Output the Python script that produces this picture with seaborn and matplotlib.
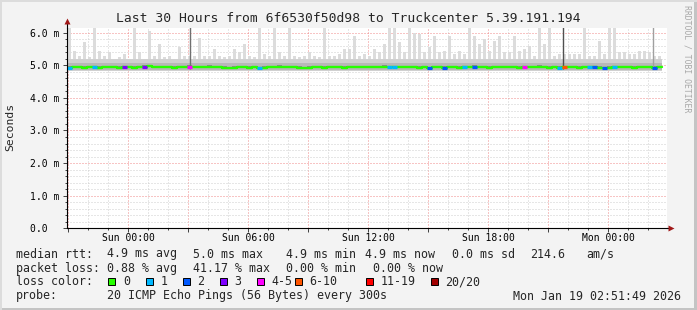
import numpy as np
import pandas as pd
import matplotlib
matplotlib.use("Agg")
import matplotlib.pyplot as plt
import matplotlib.dates as mdates
import matplotlib.ticker as mticker
from matplotlib.patches import Rectangle
from matplotlib.lines import Line2D
import seaborn as sns

# ---------------- data ----------------
title = "Last 30 Hours from 6f6530f50d98 to Truckcenter 5.39.191.194"
t_start = "2026-01-17 20:56"
t_end = "2026-01-19 02:56"
step = "15min"

median_ms = [
    4.93, 4.94, 4.94, 4.93, 4.95, 4.94, 4.93, 4.94, 4.95, 4.94,
    4.93, 4.94, 4.95, 4.93, 4.94, 4.96, 4.98, 4.95, 4.94, 4.95,
    4.94, 4.93, 4.95, 4.94, 4.96, 4.95, 4.94, 4.95, 4.96, 4.95,
    4.94, 4.93, 4.92, 4.93, 4.94, 4.94, 4.93, 4.94, 4.92, 4.93,
    4.95, 4.94, 4.96, 4.94, 4.95, 4.94, 4.93, 4.92, 4.93, 4.94,
    4.94, 4.93, 4.94, 4.95, 4.94, 4.93, 4.94, 4.94, 4.95, 4.94,
    4.95, 4.94, 4.94, 4.96, 4.95, 4.94, 4.95, 4.94, 4.95, 4.94,
    4.93, 4.94, 4.92, 4.94, 4.95, 4.93, 4.94, 4.95, 4.93, 4.94,
    4.95, 4.96, 4.95, 4.94, 4.93, 4.94, 4.95, 4.94, 4.95, 4.95,
    4.93, 4.95, 4.94, 4.95, 4.96, 4.94, 4.93, 4.94, 4.93, 4.95,
    4.94, 4.94, 4.93, 4.94, 4.95, 4.94, 4.93, 4.92, 4.93, 4.94,
    4.94, 4.95, 4.94, 4.93, 4.94, 4.95, 4.94, 4.93, 4.94,
]

smoke_max_ms = [
    6.20, 5.45, 5.30, 5.70, 5.25, 6.20, 5.45, 5.30, 5.40, 5.20,
    5.25, 5.35, 5.20, 6.20, 5.40, 5.20, 6.05, 5.30, 5.65, 5.25,
    5.30, 5.20, 5.55, 5.30, 5.30, 5.30, 5.85, 5.30, 5.30, 5.50,
    5.30, 5.25, 5.30, 5.50, 5.40, 5.65, 5.30, 5.25, 6.20, 5.35,
    5.30, 6.20, 5.40, 5.30, 6.20, 5.30, 5.25, 5.30, 5.40, 5.30,
    5.25, 6.20, 5.30, 5.30, 5.35, 5.50, 5.50, 5.90, 5.30, 5.35,
    5.30, 5.50, 5.40, 5.65, 6.20, 6.20, 5.70, 5.40, 6.20, 6.00,
    5.95, 5.40, 5.55, 5.90, 5.40, 5.45, 5.90, 5.35, 5.45, 5.35,
    6.20, 5.90, 5.65, 5.80, 5.45, 5.75, 5.90, 5.40, 5.40, 5.90,
    5.45, 5.50, 5.60, 5.30, 6.20, 5.65, 6.20, 5.30, 5.35, 5.35,
    5.35, 5.35, 5.35, 6.20, 5.30, 5.30, 5.75, 5.35, 6.20, 6.20,
    5.40, 5.40, 5.35, 5.35, 5.45, 5.45, 5.40, 5.30, 5.30,
]

loss = [
    1, 0, 0, 0, 0, 1, 0, 0, 0, 0,
    0, 3, 0, 0, 0, 3, 0, 0, 0, 0,
    0, 0, 0, 0, 4, 0, 0, 0, 0, 0,
    0, 0, 0, 0, 0, 0, 0, 0, 1, 0,
    0, 0, 0, 0, 0, 0, 0, 0, 0, 0,
    0, 0, 0, 0, 0, 0, 0, 0, 0, 0,
    0, 0, 0, 0, 1, 1, 0, 0, 0, 0,
    0, 0, 2, 0, 0, 2, 0, 0, 0, 1,
    0, 2, 0, 0, 0, 0, 0, 0, 0, 0,
    0, 4, 0, 0, 0, 0, 0, 0, 1, 7,
    0, 0, 0, 0, 1, 2, 0, 2, 0, 1,
    0, 0, 0, 0, 0, 0, 0, 2, 0,
]

spike_times = ["2026-01-18 03:05", "2026-01-18 21:45", "2026-01-19 02:15"]
spike_top = [6.3, 6.3, 6.3]
spike_colors = ["#707070", "#505050", "#a0a0a0"]

loss_labels = ["0", "1", "2", "3", "4-5", "6-10", "11-19", "20/20"]
loss_upper = [0, 1, 2, 3, 5, 10, 19, 20]
loss_colors = ["#26ff00", "#00b8ff", "#0059ff", "#7e00ff", "#ff00ff",
               "#ff5500", "#ff0000", "#a10000"]

stats_rtt = ["median rtt:", "4.9 ms avg", "5.0 ms max", "4.9 ms min",
             "4.9 ms now", "0.0 ms sd", "214.6", "am/s"]
stats_loss = ["packet loss:", "0.88 % avg", "41.17 % max", "0.00 % min",
              "0.00 % now"]
probe_text = ["probe:", "20 ICMP Echo Pings (56 Bytes) every 300s"]
stamp = "Mon Jan 19 02:51:49 2026"
watermark = "RRDTOOL / TOBI OETIKER"

# ---------------- figure ----------------
W, H = 697, 310
sns.set_style("white")
plt.rcParams["font.family"] = ["DejaVu Sans Mono"]
fig = plt.figure(figsize=(W / 100, H / 100), dpi=100)
fig.patch.set_facecolor("#f3f3f3")

def fx(px):
    return px / W

def fy(py):
    return 1 - py / H

ax = fig.add_axes([fx(67), fy(228.3), fx(667) - fx(67), fy(28) - fy(228.3)])
ax.set_facecolor("white")

times = pd.date_range(t_start, periods=len(median_ms) + 1, freq=step)
med = np.array(median_ms)
smax = np.array(smoke_max_ms)
ext = lambda a: np.append(a, a[-1])
n = len(med)

# smoke layers: outer pings as narrow bars, inner ones as steps
centers = times[:-1] + pd.Timedelta(minutes=7.5)
ax.bar(centers, smax - 4.82, bottom=4.82, width=pd.Timedelta(minutes=10) / pd.Timedelta(days=1),
       color="#dcdcdc", lw=0, zorder=2)
ax.fill_between(times, ext(np.full(n, 4.83)), ext(np.minimum(smax, 5.2)),
                step="post", color="#d0d0d0", lw=0, zorder=3)
ax.fill_between(times, ext(np.full(n, 4.85)), ext(np.minimum(smax, 5.08)),
                step="post", color="#b8b8b8", lw=0, zorder=4)
ax.fill_between(times, ext(med - 0.03), ext(med + 0.04), step="post",
                color="#8a8a8a", lw=0, zorder=5)

for t, top, c in zip(pd.to_datetime(spike_times), spike_top, spike_colors):
    ax.vlines(t, 4.9, top, color=c, lw=1.0, zorder=5)

# median line colored by loss
df = pd.DataFrame({"time": times, "median": ext(med)})
sns.lineplot(data=df, x="time", y="median", ax=ax, color=loss_colors[0],
             lw=1.7, drawstyle="steps-post", zorder=6)

def loss_color(k):
    for up, c in zip(loss_upper, loss_colors):
        if k <= up:
            return c
    return loss_colors[-1]

for i, k in enumerate(loss):
    if k > 0:
        ax.hlines(med[i], times[i], times[i + 1], color=loss_color(k), lw=2.3, zorder=7)

# axes limits
ax.set_xlim(pd.Timestamp(t_start), pd.Timestamp(t_end))
ax.set_ylim(0, 6.144)
ax.set_xlabel("")
ax.set_ylabel("")

# grid
ax.xaxis.set_major_locator(mdates.HourLocator(byhour=range(0, 24, 3)))
ax.xaxis.set_minor_locator(mdates.HourLocator())
def xfmt(x, pos):
    d = mdates.num2date(x)
    return d.strftime("%a %H:%M") if d.hour % 6 == 0 else ""
ax.xaxis.set_major_formatter(mticker.FuncFormatter(xfmt))
ax.yaxis.set_major_locator(mticker.MultipleLocator(1.0))
ax.yaxis.set_minor_locator(mticker.MultipleLocator(0.2))
ax.yaxis.set_major_formatter(mticker.FuncFormatter(
    lambda v, p: "0.0  " if abs(v) < 1e-9 else f"{v:.1f} m"))
ax.set_axisbelow(True)
ax.grid(which="minor", color="#cfcfcf", lw=0.72, linestyle=(0, (1, 2)))
ax.grid(which="major", color="#f08a8a", lw=0.72, linestyle=(0, (1, 2)))

ax.tick_params(axis="both", which="major", direction="out", length=3, width=0.7,
               color="#404040", labelsize=7, labelcolor="#000000")
ax.tick_params(axis="both", which="minor", direction="out", length=1.5, width=0.7,
               color="#404040")
ax.tick_params(axis="x", which="major", pad=0.3)
ax.tick_params(axis="y", which="major", pad=2.5)
ax.tick_params(left=True, bottom=True, which="both")

for s in ["top", "right"]:
    ax.spines[s].set_visible(False)
for s in ["left", "bottom"]:
    ax.spines[s].set_color("#000000")
    ax.spines[s].set_linewidth(0.8)
    ax.spines[s].set_zorder(8)

# axis extensions + arrows
ax.add_line(Line2D([0, 0], [1, 1.03], transform=ax.transAxes, color="#000000",
                   lw=0.8, clip_on=False))
ax.add_line(Line2D([1, 1.003], [0, 0], transform=ax.transAxes, color="#000000",
                   lw=0.8, clip_on=False))
ax.plot([0], [1.035], marker="^", ms=4, color="#a01818", transform=ax.transAxes,
        clip_on=False, mec="none")
ax.plot([1.006], [0], marker=">", ms=4, color="#a01818", transform=ax.transAxes,
        clip_on=False, mec="none")

# texts
fig.text(fx(348), fy(18), title, ha="center", va="center", fontsize=9.4)
fig.text(fx(10), fy(127), "Seconds", rotation=90, ha="center", va="center",
         fontsize=8.2)
fig.text(fx(686.5), fy(5), watermark, rotation=270, ha="center", va="top",
         fontsize=5.9, color="#a8a8a8")

fs = 8.4
row_y = [254, 268.3, 281.8, 296]
for txt, x in zip(stats_rtt, [16, 107.3, 193.3, 286, 365, 451.7, 530, 586.7]):
    fig.text(fx(x), fy(row_y[0]), txt, ha="left", va="center", fontsize=fs)
for txt, x in zip(stats_loss, [16, 107.3, 193.3, 286, 372.7]):
    fig.text(fx(x), fy(row_y[1]), txt, ha="left", va="center", fontsize=fs)
fig.text(fx(16), fy(row_y[2]), "loss color:", ha="left", va="center", fontsize=fs)
box_x = [108.3, 145.7, 183, 220, 257.3, 295, 365.7, 431]
for bx, lab, c in zip(box_x, loss_labels, loss_colors):
    fig.patches.append(Rectangle((fx(bx), fy(row_y[2] + 3.5)), 7 / W, 7 / H,
                                 transform=fig.transFigure, facecolor=c,
                                 edgecolor="#000000", lw=0.7))
    fig.text(fx(bx + 14.5), fy(row_y[2]), lab, ha="left", va="center", fontsize=fs)
fig.text(fx(16), fy(row_y[3]), probe_text[0], ha="left", va="center", fontsize=fs)
fig.text(fx(107.3), fy(row_y[3]), probe_text[1], ha="left", va="center", fontsize=fs)
fig.text(fx(680.7), fy(row_y[3]), stamp, ha="right", va="center", fontsize=fs)

# frame
fig.patches.append(Rectangle((0, 0), 1, 2 / H, transform=fig.transFigure,
                             facecolor="#c4c4c4", lw=0))
fig.patches.append(Rectangle((1 - 3 / W, 0), 3 / W, 1, transform=fig.transFigure,
                             facecolor="#c4c4c4", lw=0))
fig.patches.append(Rectangle((0, 1 - 2 / H), 1, 2 / H, transform=fig.transFigure,
                             facecolor="#dcdcdc", lw=0))
fig.patches.append(Rectangle((0, 0), 2 / W, 1, transform=fig.transFigure,
                             facecolor="#dcdcdc", lw=0))

fig.savefig("out.png", dpi=100, facecolor=fig.get_facecolor())
